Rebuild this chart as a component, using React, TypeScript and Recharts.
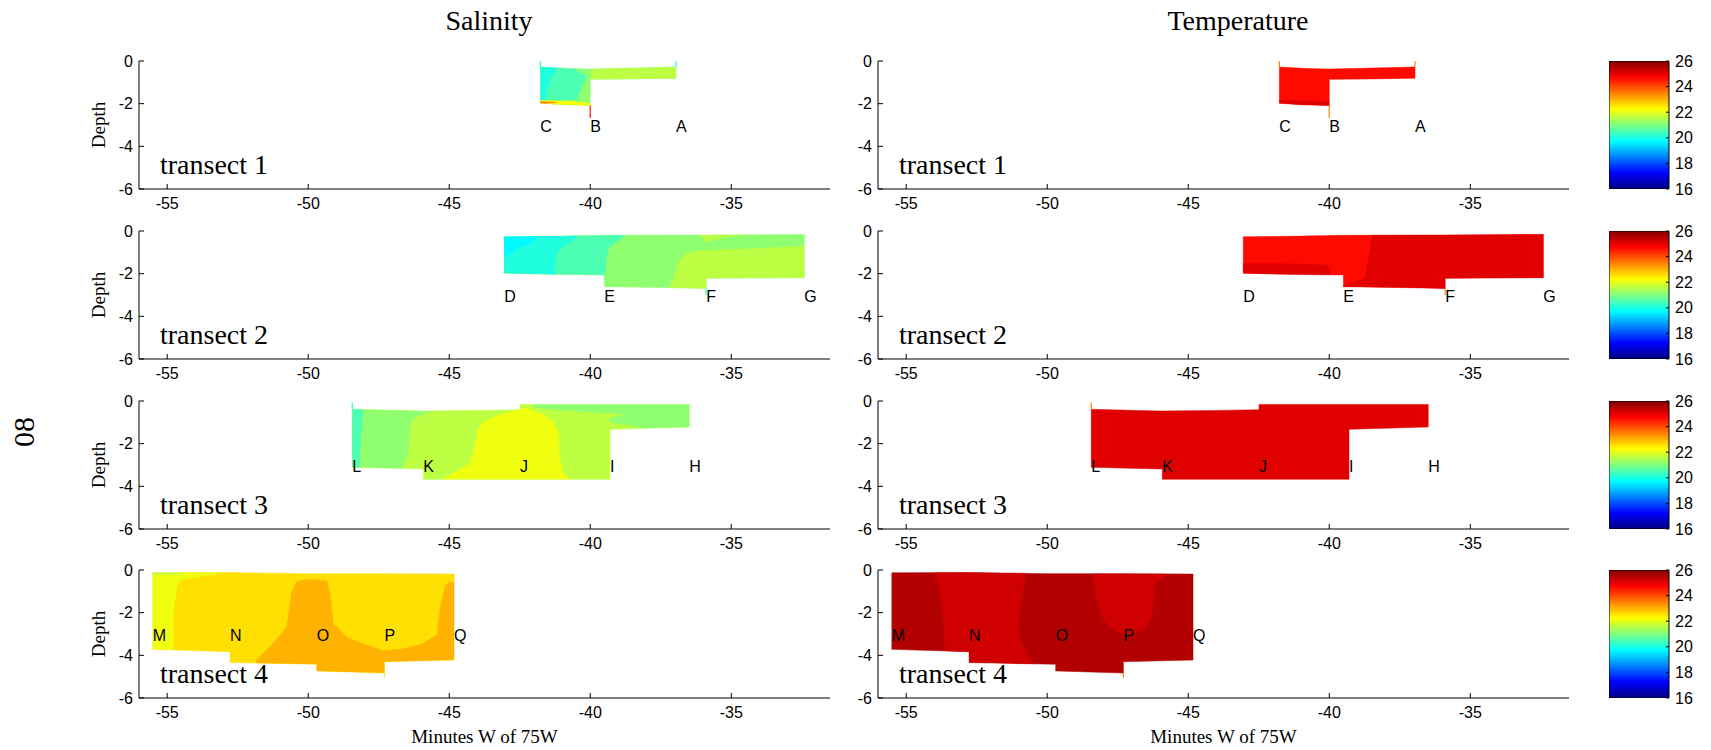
import React from "react";
import { ComposedChart, Scatter, Bar, XAxis, YAxis } from "recharts";

const SANS = '"Liberation Sans", Arial, sans-serif';
const SERIF = '"Liberation Serif", "Times New Roman", serif';

// axes
const xDomain: [number, number] = [-56, -31.5];
const xTicks = [-55, -50, -45, -40, -35];
const depthDomain: [number, number] = [-6, 0];
const depthTicks = [0, -2, -4, -6];
const colorDomain: [number, number] = [16, 26];
const colorTicks = [16, 18, 20, 22, 24, 26];
const colorbarData = [{ name: "scale", span: colorDomain }];
const jetStopValues = [26, 24.75, 22.25, 19.75, 17.25, 16];
const stationDepth = -3.05;

// section outlines, [minutes W of 75W, depth]
const outline1 = [[-41.77, -0.28], [-40.8, -0.35], [-40.0, -0.38], [-38.5, -0.33], [-36.96, -0.28], [-36.96, -0.81], [-38.5, -0.84], [-40.0, -0.86], [-40.0, -2.09], [-41.0, -2.05], [-41.77, -1.98]];
const outline2 = [[-43.05, -0.27], [-41, -0.24], [-39.5, -0.2], [-36, -0.19], [-32.41, -0.16], [-32.41, -2.19], [-35.89, -2.22], [-35.89, -2.69], [-37.5, -2.65], [-39.5, -2.61], [-39.5, -2.06], [-41.5, -2.03], [-43.05, -1.98]];
const outline3 = [[-48.44, -0.39], [-46, -0.47], [-44, -0.44], [-42.49, -0.41], [-42.49, -0.16], [-36.49, -0.16], [-36.49, -1.22], [-39.3, -1.33], [-39.3, -3.67], [-45.92, -3.67], [-45.92, -3.19], [-48.44, -3.11]];
const outline4 = [[-55.51, -0.13], [-52.8, -0.12], [-50, -0.17], [-47.5, -0.17], [-44.83, -0.19], [-44.83, -4.22], [-47.3, -4.3], [-47.3, -4.83], [-49.7, -4.73], [-49.7, -4.42], [-52.77, -4.34], [-52.77, -3.83], [-55.51, -3.72]];

// station letters
const stations1: [string, number][] = [["C", -41.77], ["B", -40.0], ["A", -36.96]];
const stations2: [string, number][] = [["D", -43.05], ["E", -39.5], ["F", -35.89], ["G", -32.41]];
const stations3: [string, number][] = [["L", -48.44], ["K", -45.92], ["J", -42.49], ["I", -39.3], ["H", -36.49]];
const stations4: [string, number][] = [["M", -55.51], ["N", -52.77], ["O", -49.7], ["P", -47.3], ["Q", -44.83]];

type Layer = { v: number; pts: number[][] };
type Cast = { x: number; from: number; to: number; v: number };

// salinity
const salBase = [21.15, 21.15, 21.6, 22.55];
const salLayers1: Layer[] = [
  { v: 21.6, pts: [[-39.8, -0.2], [-36.8, -0.2], [-36.8, -0.95], [-39.95, -0.95], [-39.95, -0.6]] },
  { v: 20.5, pts: [[-41.9, -0.2], [-40.6, -0.2], [-40.45, -0.5], [-40.15, -0.7], [-40.25, -1.0], [-40.35, -1.4], [-40.45, -1.82], [-41.9, -1.82]] },
  { v: 20.05, pts: [[-41.9, -0.2], [-41.1, -0.2], [-41.3, -0.6], [-41.45, -1.0], [-41.55, -1.4], [-41.6, -1.82], [-41.9, -1.82]] },
  { v: 22.2, pts: [[-41.9, -1.86], [-40.6, -1.9], [-40.0, -1.98], [-40.0, -2.2], [-41.9, -2.2]] },
  { v: 23.6, pts: [[-41.9, -1.9], [-41.2, -1.95], [-41.9, -2.02]] },
];
const salLayers2: Layer[] = [
  { v: 20.5, pts: [[-43.2, -0.1], [-38.71, -0.1], [-38.9, -0.35], [-39.3, -0.73], [-39.41, -1.05], [-39.45, -1.6], [-39.5, -2.2], [-43.2, -2.2]] },
  { v: 20.05, pts: [[-43.2, -0.1], [-40.42, -0.1], [-40.6, -0.42], [-41.0, -0.73], [-41.2, -1.05], [-41.25, -1.5], [-41.25, -2.2], [-43.2, -2.2]] },
  { v: 19.7, pts: [[-43.2, -0.1], [-41.9, -0.1], [-42.02, -0.5], [-42.5, -0.75], [-43.2, -1.4]] },
  { v: 21.6, pts: [[-36.58, -1.05], [-36.34, -0.97], [-35.87, -0.92], [-34.69, -0.86], [-32.2, -0.7], [-32.2, -3], [-37.3, -3], [-37.18, -2.61], [-37.0, -2.14], [-36.94, -1.75], [-36.82, -1.36]] },
  { v: 21.6, pts: [[-36.2, -0.15], [-34.4, -0.15], [-35.3, -0.3], [-35.75, -0.45], [-35.9, -0.55], [-36.0, -0.3]] },
];
const salLayers3: Layer[] = [
  { v: 21.15, pts: [[-48.6, -0.2], [-45.56, -0.2], [-45.56, -0.42], [-46.27, -0.81], [-46.39, -1.2], [-46.45, -2.14], [-46.51, -2.61], [-46.74, -3.3], [-48.6, -3.3]] },
  { v: 20.5, pts: [[-48.6, -0.2], [-48.05, -0.2], [-48.13, -1.5], [-48.2, -3.3], [-48.6, -3.3]] },
  { v: 22.1, pts: [[-45.4, -3.8], [-45.2, -3.63], [-44.62, -3.23], [-44.26, -2.92], [-44.09, -2.14], [-43.97, -1.36], [-43.79, -0.97], [-43.2, -0.64], [-42.73, -0.47], [-42.61, -0.39], [-42.25, -0.35], [-41.66, -0.64], [-41.31, -0.97], [-41.13, -1.52], [-41.1, -2.61], [-40.95, -3.39], [-40.72, -3.67], [-40.6, -3.8]] },
  { v: 21.15, pts: [[-42.0, -0.1], [-36.3, -0.1], [-36.3, -1.4], [-37.6, -1.45], [-38.5, -1.15], [-39.3, -0.97], [-39.3, -0.8], [-38.6, -0.64], [-39.4, -0.55], [-40.8, -0.45], [-42.0, -0.3]] },
];
const salLayers4: Layer[] = [
  { v: 22.1, pts: [[-55.7, -0.05], [-52.9, -0.05], [-53.3, -0.2], [-53.84, -0.31], [-54.55, -0.47], [-54.66, -0.78], [-54.78, -2.0], [-54.8, -3.9], [-55.7, -3.9]] },
  { v: 21.6, pts: [[-55.7, -0.05], [-54.3, -0.05], [-54.6, -0.2], [-55.7, -0.22]] },
  { v: 23.0, pts: [[-51.83, -4.5], [-51.83, -4.22], [-51.24, -3.44], [-50.76, -2.66], [-50.59, -1.09], [-50.41, -0.55], [-50.05, -0.44], [-49.34, -0.5], [-49.23, -1.09], [-49.11, -2.5], [-48.63, -3.16], [-47.93, -3.52], [-47.34, -3.8], [-46.74, -3.72], [-46.04, -3.52], [-45.44, -3.05], [-45.33, -1.875], [-45.15, -0.78], [-45.03, -0.59], [-44.6, -0.59], [-44.6, -5.2], [-51.83, -5.2]] },
];
const salCasts1: Cast[] = [{ x: -41.77, from: 0, to: -0.28, v: 20.05 }, { x: -36.96, from: 0, to: -0.28, v: 20.05 }, { x: -40.0, from: -2.09, to: -2.67, v: 24.5 }];
const salCasts2: Cast[] = [{ x: -35.89, from: -2.69, to: -3.0, v: 20.05 }];
const salCasts3: Cast[] = [{ x: -48.44, from: -0.07, to: -0.39, v: 20.05 }];
const salCasts4: Cast[] = [{ x: -47.3, from: -4.83, to: -5.05, v: 21.6 }];

// temperature
const tmpBase = [24.65, 24.65, 25.05, 25.5];
const tmpLayers1: Layer[] = [
  { v: 25.05, pts: [[-41.9, -1.83], [-40.0, -1.91], [-40.0, -2.2], [-41.9, -2.2]] },
];
const tmpLayers2: Layer[] = [
  { v: 25.05, pts: [[-38.45, -0.1], [-32.2, -0.1], [-32.2, -3], [-39.6, -3], [-39.6, -2.6], [-39.2, -2.45], [-38.73, -2.22], [-38.67, -1.67], [-38.55, -0.89], [-38.5, -0.4]] },
  { v: 25.05, pts: [[-43.2, -1.52], [-41, -1.55], [-40.1, -1.6], [-39.97, -1.75], [-39.97, -2.3], [-43.2, -2.3]] },
];
const tmpLayers3: Layer[] = [];
const tmpLayers4: Layer[] = [
  { v: 25.2, pts: [[-54.0, 0], [-50.75, 0], [-50.8, -0.39], [-50.92, -1.41], [-51.04, -2.66], [-50.92, -3.44], [-50.56, -4.22], [-50.4, -4.6], [-53.62, -4.6], [-53.62, -3.75], [-53.68, -2.19], [-53.86, -0.625], [-53.98, -0.23]] },
  { v: 25.2, pts: [[-48.4, 0], [-45.7, 0], [-45.88, -0.31], [-46.18, -0.63], [-46.3, -2.19], [-46.59, -2.81], [-47.18, -3.05], [-47.65, -2.81], [-48.0, -2.34], [-48.24, -1.41], [-48.36, -0.39]] },
];
const tmpCasts1: Cast[] = [{ x: -41.77, from: 0, to: -0.28, v: 23.5 }, { x: -36.96, from: 0, to: -0.28, v: 23.5 }, { x: -40.0, from: -2.09, to: -2.67, v: 23.5 }];
const tmpCasts2: Cast[] = [{ x: -35.89, from: -2.69, to: -3.0, v: 23.5 }];
const tmpCasts3: Cast[] = [{ x: -48.44, from: -0.07, to: -0.39, v: 23.5 }];
const tmpCasts4: Cast[] = [{ x: -47.3, from: -4.83, to: -5.05, v: 23.5 }];

const outlines = [outline1, outline2, outline3, outline4];
const stations = [stations1, stations2, stations3, stations4];
const salLayers = [salLayers1, salLayers2, salLayers3, salLayers4];
const salCasts = [salCasts1, salCasts2, salCasts3, salCasts4];
const tmpLayers = [tmpLayers1, tmpLayers2, tmpLayers3, tmpLayers4];
const tmpCasts = [tmpCasts1, tmpCasts2, tmpCasts3, tmpCasts4];

// layout
const ROW_TOP = [61, 231, 401, 570];
const PLOT_W = 691;
const PLOT_H = 128;
const COL_LEFT = [139, 878];
const CBAR_LEFT = 1609;
const CBAR_W = 60;
const TICK_LEN = 5;

// MATLAB-style jet colormap over 16..26
function jet(v: number) {
  const t = (v - colorDomain[0]) / (colorDomain[1] - colorDomain[0]);
  const c = (k: number) => Math.round(255 * Math.min(1, Math.max(0, 1.5 - Math.abs(4 * t - k))));
  return `rgb(${c(3)},${c(2)},${c(1)})`;
}

const toPts = (a: number[][]) => a.map(([x, y]) => ({ x, y }));
const svgPts = (points: { x: number; y: number }[]) => points.map((p) => `${p.x},${p.y}`).join(" ");
const noSymbol = () => <g />;

const tickFont = { fontFamily: SANS, fontSize: 16, fill: "#000" };

function BottomTick(p: any) {
  return (
    <g>
      <line x1={p.x} x2={p.x} y1={p.y} y2={p.y - TICK_LEN} stroke="#000" />
      <text x={p.x} y={p.y + 14} textAnchor="middle" dominantBaseline="central" {...tickFont}>
        {p.payload.value}
      </text>
    </g>
  );
}
function TopTick(p: any) {
  return <line x1={p.x} x2={p.x} y1={p.y} y2={p.y + TICK_LEN} stroke="#000" />;
}
function LeftTick(p: any) {
  return (
    <g>
      <line x1={p.x} x2={p.x + TICK_LEN} y1={p.y} y2={p.y} stroke="#000" />
      <text x={p.x - 6} y={p.y} textAnchor="end" dominantBaseline="central" {...tickFont}>
        {p.payload.value}
      </text>
    </g>
  );
}
function RightTick(p: any) {
  return <line x1={p.x} x2={p.x - TICK_LEN} y1={p.y} y2={p.y} stroke="#000" />;
}
function BarLeftTick(p: any) {
  return <line x1={p.x} x2={p.x + 3} y1={p.y} y2={p.y} stroke="#000" />;
}
function BarRightTick(p: any) {
  return (
    <g>
      <line x1={p.x} x2={p.x - 3} y1={p.y} y2={p.y} stroke="#000" />
      <text x={p.x + 6} y={p.y} dominantBaseline="central" {...tickFont}>
        {p.payload.value}
      </text>
    </g>
  );
}
function StationLabel(p: any) {
  return (
    <text x={p.cx} y={p.cy} dominantBaseline="central" fontFamily={SANS} fontSize={16} fill="#000">
      {p.payload.name}
    </text>
  );
}

function Section(props: {
  id: string;
  left: number;
  top: number;
  outline: number[][];
  base: number;
  layers: Layer[];
  casts: Cast[];
  stations: [string, number][];
}) {
  const { id, left, top, outline, base, layers, casts } = props;
  const clip = `section-${id}`;
  const labels = props.stations.map(([name, x]) => ({ name, x, y: stationDepth }));
  const axisLine = { stroke: "#000", strokeWidth: 1 };
  return (
    <div style={{ position: "absolute", left: left - 50, top: top - 10 }}>
      <ComposedChart width={50 + PLOT_W + 20} height={10 + PLOT_H + 30} margin={{ top: 10, right: 20, bottom: 0, left: 0 }}>
        <XAxis xAxisId="b" type="number" dataKey="x" domain={xDomain} ticks={xTicks} allowDataOverflow interval={0}
          height={30} tickSize={0} tickMargin={0} tickLine={false} axisLine={axisLine} tick={BottomTick} />
        <XAxis xAxisId="t" orientation="top" type="number" dataKey="x" domain={xDomain} ticks={xTicks} allowDataOverflow interval={0}
          height={0} tickSize={0} tickMargin={0} tickLine={false} axisLine={axisLine} tick={TopTick} />
        <YAxis yAxisId="l" type="number" dataKey="y" domain={depthDomain} ticks={depthTicks} allowDataOverflow interval={0}
          width={50} tickSize={0} tickMargin={0} tickLine={false} axisLine={axisLine} tick={LeftTick} />
        <YAxis yAxisId="r" orientation="right" type="number" dataKey="y" domain={depthDomain} ticks={depthTicks} allowDataOverflow interval={0}
          width={0} tickSize={0} tickMargin={0} tickLine={false} axisLine={axisLine} tick={RightTick} />
        <Scatter
          xAxisId="b" yAxisId="l" data={toPts(outline)} shape={noSymbol} legendType="none" isAnimationActive={false}
          line={(lp: any) => {
            const s = svgPts(lp.points);
            return (
              <g>
                <defs>
                  <clipPath id={clip}>
                    <polygon points={s} />
                  </clipPath>
                </defs>
                <polygon points={s} fill={jet(base)} stroke={jet(base)} strokeWidth={0.5} />
              </g>
            );
          }}
        />
        {layers.map((l, i) => (
          <Scatter
            key={`layer-${i}`} xAxisId="b" yAxisId="l" data={toPts(l.pts)} shape={noSymbol} legendType="none" isAnimationActive={false}
            line={(lp: any) => (
              <polygon points={svgPts(lp.points)} fill={jet(l.v)} stroke={jet(l.v)} strokeWidth={0.6} clipPath={`url(#${clip})`} />
            )}
          />
        ))}
        {casts.map((c, i) => (
          <Scatter
            key={`cast-${i}`} xAxisId="b" yAxisId="l" data={[{ x: c.x, y: c.from }, { x: c.x, y: c.to }]} shape={noSymbol}
            legendType="none" isAnimationActive={false}
            line={(lp: any) => <polyline points={svgPts(lp.points)} fill="none" stroke={jet(c.v)} strokeWidth={1.2} />}
          />
        ))}
        <Scatter xAxisId="b" yAxisId="l" data={labels} shape={StationLabel} legendType="none" isAnimationActive={false} />
      </ComposedChart>
    </div>
  );
}

function ColorBar({ id, top }: { id: string; top: number }) {
  const gid = `jet-${id}`;
  return (
    <div style={{ position: "absolute", left: CBAR_LEFT, top: top - 10 }}>
      <ComposedChart width={CBAR_W + 40} height={PLOT_H + 20} data={colorbarData} barCategoryGap={0}
        margin={{ top: 10, right: 0, bottom: 10, left: 0 }}>
        <defs>
          <linearGradient id={gid} x1="0" y1="0" x2="0" y2="1">
            {jetStopValues.map((v) => (
              <stop key={v} offset={(colorDomain[1] - v) / (colorDomain[1] - colorDomain[0])} stopColor={jet(v)} />
            ))}
          </linearGradient>
        </defs>
        <XAxis dataKey="name" type="category" hide />
        <YAxis yAxisId="l" type="number" domain={colorDomain} ticks={colorTicks} allowDataOverflow interval={0}
          width={0} tickSize={0} tickMargin={0} tickLine={false} axisLine={false} tick={BarLeftTick} />
        <YAxis yAxisId="r" orientation="right" type="number" domain={colorDomain} ticks={colorTicks} allowDataOverflow interval={0}
          width={40} tickSize={0} tickMargin={0} tickLine={false} axisLine={false} tick={BarRightTick} />
        <Bar yAxisId="r" dataKey="span" fill={`url(#${gid})`} stroke="#000" strokeWidth={1} isAnimationActive={false} />
      </ComposedChart>
    </div>
  );
}

export default function App() {
  const serif = { fontFamily: SERIF, fill: "#000" };
  return (
    <div style={{ position: "absolute", left: 0, top: 0, width: 1711, height: 750, background: "#fff" }}>
      {ROW_TOP.map((top, r) => (
        <React.Fragment key={r}>
          <Section id={`s${r}`} left={COL_LEFT[0]} top={top} outline={outlines[r]} base={salBase[r]}
            layers={salLayers[r]} casts={salCasts[r]} stations={stations[r]} />
          <Section id={`t${r}`} left={COL_LEFT[1]} top={top} outline={outlines[r]} base={tmpBase[r]}
            layers={tmpLayers[r]} casts={tmpCasts[r]} stations={stations[r]} />
          <ColorBar id={`c${r}`} top={top} />
        </React.Fragment>
      ))}
      <svg width={1711} height={750} style={{ position: "absolute", left: 0, top: 0, pointerEvents: "none" }}>
        <text x={489} y={30} textAnchor="middle" fontSize={28} {...serif}>Salinity</text>
        <text x={1238} y={30} textAnchor="middle" fontSize={28} {...serif}>Temperature</text>
        <text x={23} y={432} textAnchor="middle" dominantBaseline="central" fontSize={30} transform="rotate(-90 23 432)" {...serif}>08</text>
        {ROW_TOP.map((top, r) => (
          <React.Fragment key={r}>
            <text x={98} y={top + PLOT_H / 2} textAnchor="middle" dominantBaseline="central" fontSize={19}
              transform={`rotate(-90 98 ${top + PLOT_H / 2})`} {...serif}>Depth</text>
            <text x={COL_LEFT[0] + 21} y={top + PLOT_H - 15} fontSize={28} {...serif}>transect {r + 1}</text>
            <text x={COL_LEFT[1] + 21} y={top + PLOT_H - 15} fontSize={28} {...serif}>transect {r + 1}</text>
          </React.Fragment>
        ))}
        <text x={COL_LEFT[0] + PLOT_W / 2} y={743} textAnchor="middle" fontSize={19} {...serif}>Minutes W of 75W</text>
        <text x={COL_LEFT[1] + PLOT_W / 2} y={743} textAnchor="middle" fontSize={19} {...serif}>Minutes W of 75W</text>
      </svg>
    </div>
  );
}
